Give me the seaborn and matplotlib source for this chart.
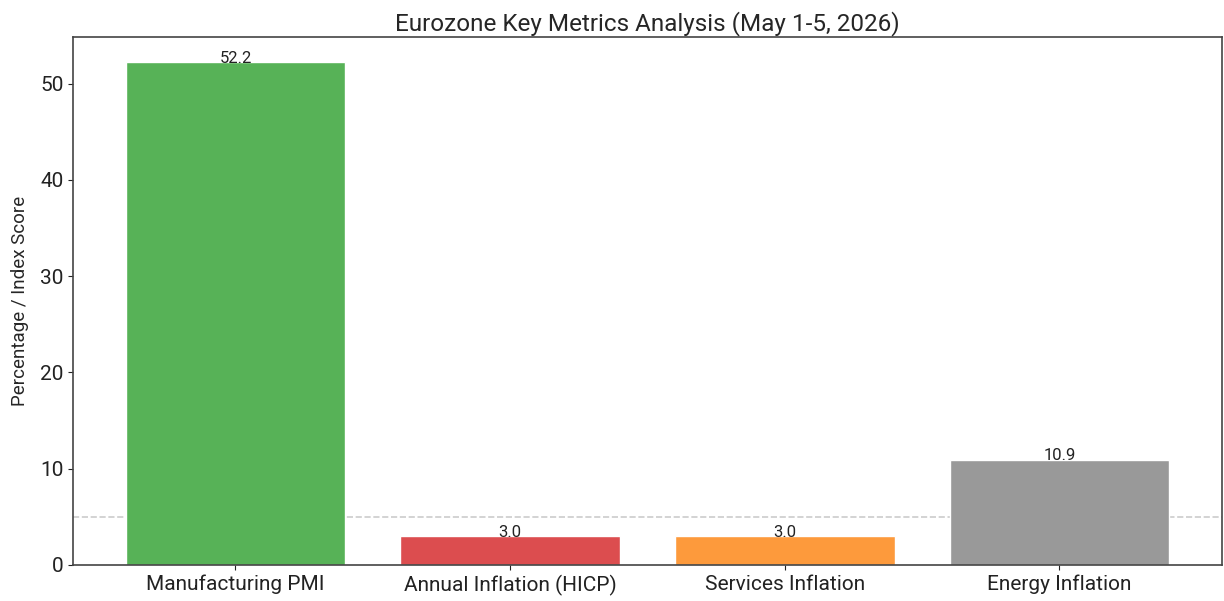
import matplotlib
matplotlib.use("Agg")
import matplotlib.pyplot as plt
import pandas as pd
import seaborn as sns

# chart values
metrics = ["Manufacturing PMI", "Annual Inflation (HICP)", "Services Inflation", "Energy Inflation"]
values = [52.2, 3.0, 3.0, 10.9]
bar_colors = ["#57b257", "#dc4d4f", "#fd9a3c", "#999999"]
ref_level = 5

df = pd.DataFrame({"Metric": metrics, "Value": values})

sns.set_style("ticks")
plt.rcParams["font.family"] = ["Roboto", "DejaVu Sans"]

fig, ax = plt.subplots(figsize=(12.24, 6.01), dpi=100)
fig.subplots_adjust(left=0.060, right=0.998, top=0.938, bottom=0.060)

sns.barplot(data=df, x="Metric", y="Value", hue="Metric",
            palette=dict(zip(metrics, bar_colors)), legend=False,
            width=0.8, saturation=1, ax=ax)

# value labels sitting on the bars
for i, v in enumerate(values):
    ax.text(i, v - 0.05, f"{v:.1f}", ha="center", va="baseline", fontsize=12, color="#222222")

ax.axhline(ref_level, color="#cccccc", linestyle="--", linewidth=1.2, zorder=0)

ax.set_xlim(-0.59, 3.59)
ax.set_ylim(0, 54.81)
ax.set_yticks([0, 10, 20, 30, 40, 50])
ax.set_title("Eurozone Key Metrics Analysis (May 1-5, 2026)", fontsize=17.5, pad=5)
ax.set_xlabel("")
ax.set_ylabel("Percentage / Index Score", fontsize=13.5, labelpad=8)
ax.tick_params(axis="both", labelsize=15, colors="#222222")
for s in ax.spines.values():
    s.set_color("#444444")
    s.set_linewidth(1.2)

fig.savefig("out.png", dpi=100)
